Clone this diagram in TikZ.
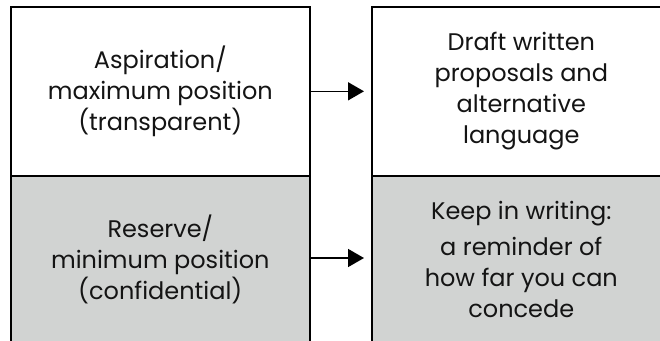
\documentclass[tikz,border=0pt]{standalone}
\usepackage{fontspec}
\setmainfont{Poppins}
\usetikzlibrary{arrows.meta}
\definecolor{boxgray}{RGB}{209,211,210}
\definecolor{ink}{RGB}{20,20,20}
\begin{document}
\begin{tikzpicture}[x=1pt,y=-1pt,
  cell/.style={draw=black, line width=1.6pt, minimum width=299pt, minimum height=169pt,
    inner sep=0pt, align=center, anchor=north west, text=ink,
    font=\fontsize{24}{31}\selectfont},
  topcell/.style={cell, fill=white},
  botcell/.style={cell, fill=boxgray, minimum height=168pt},
  link/.style={line width=1.6pt, -{Triangle[length=16pt,width=18pt]}, shorten >=7pt}]
\useasboundingbox (0,0) rectangle (660,340);
\clip (0,0) rectangle (660,340);
\fill[white] (0,0) rectangle (660,340);
\node[topcell] (a) at (10,6) {Aspiration/\\maximum position\\(transparent)};
\node[botcell] (c) at (10,175) {Reserve/\\minimum position\\(confidential)};
\node[topcell] (b) at (371,6) {Draft written\\proposals and\\alternative\\language};
\node[botcell] (d) at (371,175) {Keep in writing:\\[5pt]a reminder of\\how far you can\\concede};
\draw[link] (a.east) -- (b.west);
\draw[link] (c.east |- 0,258) -- (d.west |- 0,258);
\end{tikzpicture}
\end{document}
